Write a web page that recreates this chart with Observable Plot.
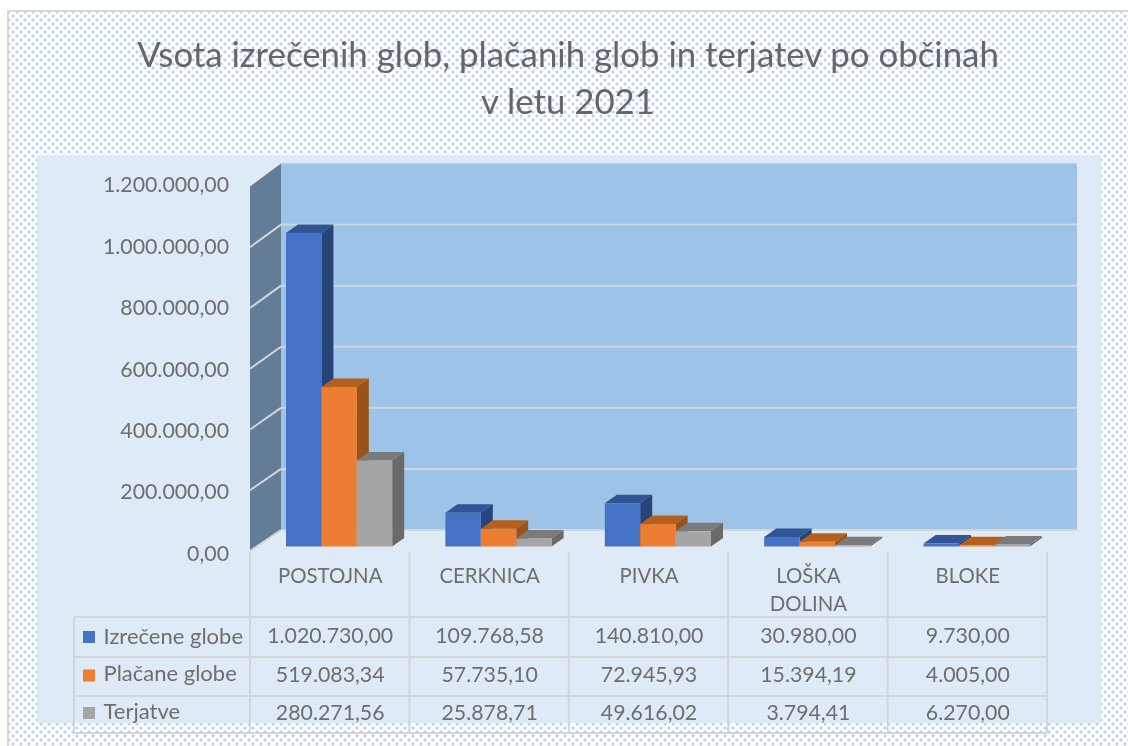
<!DOCTYPE html>
<html><head><meta charset="utf-8">
<script src="https://cdn.jsdelivr.net/npm/d3@7"></script>
<script src="https://cdn.jsdelivr.net/npm/@observablehq/plot@0.6"></script>
<style>
html,body{margin:0;padding:0;background:#fff;overflow:hidden}
#page{position:relative;width:1128px;height:746px;filter:blur(0.6px);overflow:hidden}
#dots{position:absolute;left:7px;top:10px;right:-4px;bottom:-4px;border:2px solid #d9d9d9;
 background-image:radial-gradient(circle,#b4d2ef 1.35px,transparent 1.75px),radial-gradient(circle,#b4d2ef 1.35px,transparent 1.75px);
 background-size:8px 8px;background-position:0 0,4px 4px}
#title{position:absolute;left:0;width:1136px;top:30px;text-align:center;font:34.8px/47px Lato,sans-serif;color:#666}
#chart{position:absolute;left:0;top:0}
svg{display:block;background:transparent}
</style></head><body>
<div id="page"><div id="dots"></div>
<div id="title">Vsota izrečenih glob, plačanih glob in terjatev po občinah<br>v letu 2021</div>
<div id="chart"></div></div>
<script>
const categories = ["POSTOJNA", "CERKNICA", "PIVKA", "LOŠKA\nDOLINA", "BLOKE"];
const seriesNames = ["Izrečene globe", "Plačane globe", "Terjatve"];
const izrecene = [1020730.00, 109768.58, 140810.00, 30980.00, 9730.00];
const placane = [519083.34, 57735.10, 72945.93, 15394.19, 4005.00];
const terjatve = [280271.56, 25878.71, 49616.02, 3794.41, 6270.00];
const yTicks = [0, 200000, 400000, 600000, 800000, 1000000, 1200000];
const frontColors = ["#4472c4", "#ed7d31", "#a5a5a5"];
const topColors = ["#2f5597", "#b5601d", "#7b7b7b"];
const sideColors = ["#264478", "#9a521a", "#6a6a6a"];

const seriesValues = [izrecene, placane, terjatve];
const font = "Lato, sans-serif";
const numFmt = d3.formatLocale({decimal: ",", thousands: ".", grouping: [3], currency: ["", ""]}).format(",.2f");
const rowsFor = i => categories.map((c, j) => ({cat: c, value: seriesValues[i][j]}));

const barStart = 36, barW = 35.4, depthX = 12, depthY = 8.5;
const YMAX = 1200000;

function poly(g, pts, fill) {
  g.append("polygon").attr("points", pts.map(p => p.join(",")).join(" ")).attr("fill", fill);
}
function line(g, x1, y1, x2, y2, w = 2, c = "#d3d6d9") {
  g.append("line").attr("x1", x1).attr("y1", y1).attr("x2", x2).attr("y2", y2)
    .attr("stroke", c).attr("stroke-width", w);
}

// panel, walls and gridlines, placed by the y scale
function walls(index, {x, y}) {
  const g = d3.create("svg:g");
  const back = v => y(v) - 16.5 + 2 * v / YMAX, front = v => y(v) + 4.5 + 4 * v / YMAX;
  const x0 = x.range()[0], xb = x0 + 31, xr = 1077;
  g.append("rect").attr("x", 37).attr("y", 155).attr("width", 1064).attr("height", 568).attr("fill", "#deeaf6");
  g.append("rect").attr("x", xb).attr("y", back(YMAX)).attr("width", xr - xb).attr("height", back(0) - back(YMAX)).attr("fill", "#9dc3e6");
  poly(g, [[x0, front(YMAX)], [xb, back(YMAX)], [xb, back(0)], [x0, front(0)]], "#647d97");
  for (const v of yTicks) {
    if (v === YMAX) { line(g, xb, back(v), xr, back(v), 1.5, "#c4d3e2"); continue; }
    line(g, x0, front(v), xb, back(v));
    line(g, xb, back(v), xr, back(v));
  }
  return g.node();
}

// table grid, aligned to the x scale's columns
function tableGrid(index, {x}) {
  const g = d3.create("svg:g");
  const right = x.range()[1];
  const cols = [...categories.map(c => x(c)), right];
  for (const cx of cols) line(g, cx, 552, cx, 733);
  for (const ry of [617, 657, 696, 733]) line(g, 74, ry, right, ry);
  line(g, 74, 617, 74, 733);
  frontColors.forEach((c, i) => {
    g.append("rect").attr("x", 83).attr("y", [631, 669.5, 707][i]).attr("width", 12).attr("height", 12).attr("fill", c);
  });
  return g.node();
}

// top and side faces of a series' bars
function faces(i) {
  return (index, {x, y}) => {
    const g = d3.create("svg:g");
    rowsFor(i).forEach(d => {
      const l = x(d.cat) + barStart + i * barW, r = l + barW;
      const t = y(d.value), b = y(0);
      poly(g, [[l, t], [l + depthX, t - depthY], [r + depthX, t - depthY], [r, t]], topColors[i]);
      poly(g, [[r, t], [r + depthX, t - depthY], [r + depthX, b - depthY], [r, b]], sideColors[i]);
    });
    return g.node();
  };
}

const txt = {fontFamily: font, fill: "#6e6e6e"};
const marks = [walls, tableGrid];
seriesNames.forEach((name, i) => {
  marks.push(faces(i));
  marks.push(Plot.barY(rowsFor(i), {
    x: "cat", y: "value", fill: frontColors[i],
    insetLeft: barStart + i * barW,
    insetRight: 797 / 5 - barStart - (i + 1) * barW
  }));
  marks.push(Plot.text(rowsFor(i), {
    x: "cat", text: d => numFmt(d.value), frameAnchor: "top", lineAnchor: "middle",
    dy: [636, 675, 713][i], fontSize: 21.3, ...txt
  }));
  marks.push(Plot.text([name], {
    text: d => d, frameAnchor: "top-left", lineAnchor: "middle", dx: 103,
    dy: [636, 673, 711][i], textAnchor: "start", fontSize: 22, ...txt
  }));
});
marks.push(Plot.text(categories, {
  x: d => d, text: d => d, frameAnchor: "top", dy: 562.5, lineAnchor: "top", lineHeight: 1.37, fontSize: 20.4, ...txt
}));
marks.push(Plot.axisY({
  ticks: yTicks, tickSize: 0, tickPadding: 0, dx: 228.5, dy: 7, textAnchor: "end",
  tickFormat: numFmt, label: null, fontSize: 21.3, ...txt
}));

const chart = Plot.plot({
  width: 1128, height: 746,
  marginTop: 0, marginRight: 0, marginBottom: 0, marginLeft: 0,
  style: {background: "transparent", overflow: "visible"},
  x: {type: "band", domain: categories, range: [250, 1047], padding: 0, round: false, axis: null},
  y: {type: "linear", domain: [0, YMAX], range: [546.5, 178], axis: null},
  marks
});
document.getElementById("chart").append(chart);
</script>
</body></html>
